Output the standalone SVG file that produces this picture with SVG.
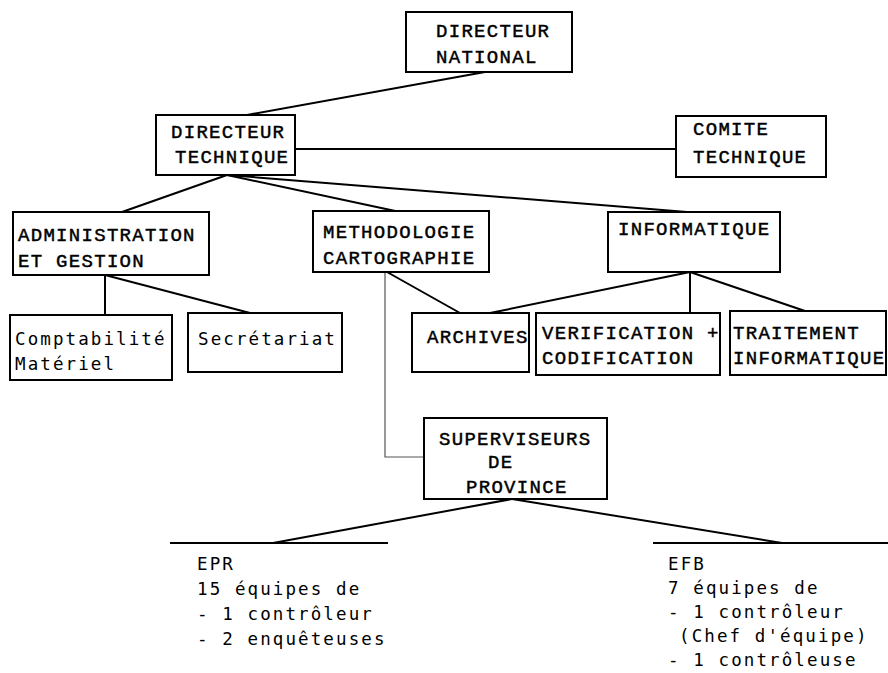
<svg xmlns="http://www.w3.org/2000/svg" width="888" height="673" viewBox="0 0 888 673">
<style>
.box{fill:#fff;stroke:#000;stroke-width:2}
.t{font-family:"Liberation Mono","DejaVu Sans Mono",monospace;font-size:19px;letter-spacing:1.3px;fill:#000;stroke:#000;stroke-width:0.45px}
.s{font-family:"DejaVu Sans Mono","Liberation Mono",monospace;font-size:17.5px;letter-spacing:2.1px;fill:#000}
.c{stroke:#000;stroke-width:2;fill:none}
.thin{stroke:#555;stroke-width:1.2;fill:none}
</style>
<rect width="888" height="673" fill="#fff"/>
<g id="connectors">
<line class="c" x1="485" y1="72" x2="247" y2="115"/>
<line class="c" x1="295" y1="149" x2="676" y2="149"/>
<line class="c" x1="227" y1="175" x2="122" y2="212"/>
<line class="c" x1="227" y1="175" x2="400" y2="212"/>
<line class="c" x1="227" y1="175" x2="687" y2="212"/>
<line class="c" x1="105" y1="275" x2="105" y2="315"/>
<line class="c" x1="105" y1="275" x2="250" y2="313"/>
<line class="c" x1="387" y1="272" x2="460" y2="313"/>
<line class="c" x1="690" y1="272" x2="490" y2="313"/>
<line class="c" x1="690" y1="272" x2="690" y2="313"/>
<line class="c" x1="690" y1="272" x2="805" y2="311"/>
<polyline class="thin" points="385,272 385,457 424,457"/>
<line class="c" x1="512" y1="499" x2="273" y2="543"/>
<line class="c" x1="512" y1="499" x2="782" y2="543"/>
<line class="c" x1="170" y1="543" x2="388" y2="543"/>
<line class="c" x1="653" y1="543" x2="888" y2="543"/>
</g>
<g id="directeur-national">
<rect class="box" x="406" y="12" width="166" height="60"/>
<text class="t" x="436" y="37">DIRECTEUR</text>
<text class="t" x="436" y="63">NATIONAL</text>
</g>
<g id="directeur-technique">
<rect class="box" x="156" y="115" width="139" height="60"/>
<text class="t" x="171" y="138">DIRECTEUR</text>
<text class="t" x="175" y="163">TECHNIQUE</text>
</g>
<g id="comite-technique">
<rect class="box" x="676" y="116" width="150" height="61"/>
<text class="t" x="693" y="135">COMITE</text>
<text class="t" x="693" y="163">TECHNIQUE</text>
</g>
<g id="administration">
<rect class="box" x="13" y="212" width="196" height="63"/>
<text class="t" x="18" y="241">ADMINISTRATION</text>
<text class="t" x="18" y="267">ET GESTION</text>
</g>
<g id="methodologie">
<rect class="box" x="313" y="211" width="176" height="61"/>
<text class="t" x="323" y="238">METHODOLOGIE</text>
<text class="t" x="323" y="264">CARTOGRAPHIE</text>
</g>
<g id="informatique">
<rect class="box" x="608" y="212" width="172" height="60"/>
<text class="t" x="618" y="235">INFORMATIQUE</text>
</g>
<g id="comptabilite">
<rect class="box" x="10" y="315" width="162" height="65"/>
<text class="s" x="15" y="345">Comptabilité</text>
<text class="s" x="15" y="370">Matériel</text>
</g>
<g id="secretariat">
<rect class="box" x="188" y="313" width="154" height="59"/>
<text class="s" x="198" y="345">Secrétariat</text>
</g>
<g id="archives">
<rect class="box" x="412" y="313" width="117" height="59"/>
<text class="t" x="427" y="343">ARCHIVES</text>
</g>
<g id="verification">
<rect class="box" x="536" y="313" width="184" height="62"/>
<text class="t" x="542" y="339">VERIFICATION +</text>
<text class="t" x="542" y="364">CODIFICATION</text>
</g>
<g id="traitement">
<rect class="box" x="730" y="311" width="156" height="64"/>
<text class="t" x="733" y="339">TRAITEMENT</text>
<text class="t" x="733" y="364">INFORMATIQUE</text>
</g>
<g id="superviseurs">
<rect class="box" x="424" y="418" width="183" height="81"/>
<text class="t" x="439" y="445">SUPERVISEURS</text>
<text class="t" x="488" y="468">DE</text>
<text class="t" x="466" y="493">PROVINCE</text>
</g>
<g id="epr">
<text class="s" x="197" y="570">EPR</text>
<text class="s" x="197" y="595">15 équipes de</text>
<text class="s" x="197" y="620">- 1 contrôleur</text>
<text class="s" x="197" y="645">- 2 enquêteuses</text>
</g>
<g id="efb">
<text class="s" x="668" y="570">EFB</text>
<text class="s" x="668" y="594">7 équipes de</text>
<text class="s" x="668" y="618">- 1 contrôleur</text>
<text class="s" x="679" y="642">(Chef d'équipe)</text>
<text class="s" x="668" y="666">- 1 contrôleuse</text>
</g>
</svg>
